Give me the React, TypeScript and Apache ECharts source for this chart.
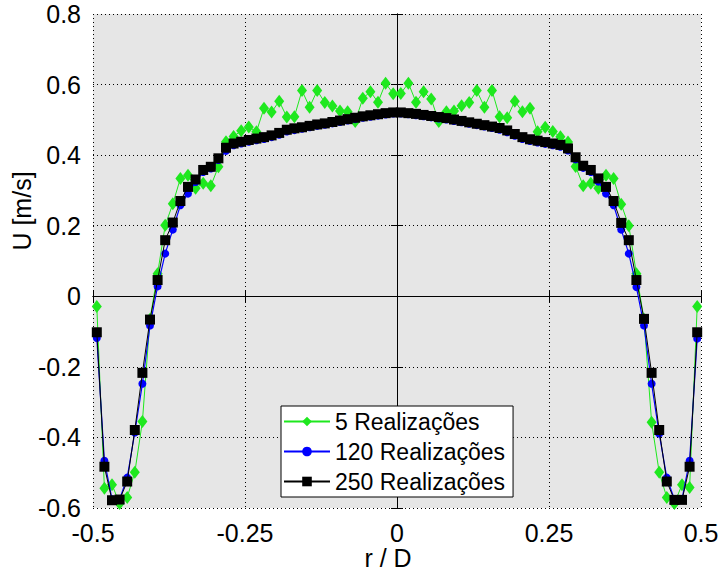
import React, { useEffect, useRef } from "react";
import * as echarts from "echarts";

const rD = [
  -0.49375, -0.48125, -0.46875, -0.45625, -0.44375, -0.43125, -0.41875, -0.40625, -0.39375, -0.38125,
  -0.36875, -0.35625, -0.34375, -0.33125, -0.31875, -0.30625, -0.29375, -0.28125, -0.26875, -0.25625,
  -0.24375, -0.23125, -0.21875, -0.20625, -0.19375, -0.18125, -0.16875, -0.15625, -0.14375, -0.13125,
  -0.11875, -0.10625, -0.09375, -0.08125, -0.06875, -0.05625, -0.04375, -0.03125, -0.01875, -0.00625,
  0.00625, 0.01875, 0.03125, 0.04375, 0.05625, 0.06875, 0.08125, 0.09375, 0.10625, 0.11875,
  0.13125, 0.14375, 0.15625, 0.16875, 0.18125, 0.19375, 0.20625, 0.21875, 0.23125, 0.24375,
  0.25625, 0.26875, 0.28125, 0.29375, 0.30625, 0.31875, 0.33125, 0.34375, 0.35625, 0.36875,
  0.38125, 0.39375, 0.40625, 0.41875, 0.43125, 0.44375, 0.45625, 0.46875, 0.48125, 0.49375,
];

const u5 = [
  -0.029, -0.544, -0.534, -0.587, -0.570, -0.499, -0.355, -0.065, 0.064, 0.201,
  0.262, 0.334, 0.343, 0.306, 0.320, 0.313, 0.367, 0.438, 0.453, 0.469,
  0.480, 0.466, 0.533, 0.522, 0.553, 0.508, 0.509, 0.583, 0.536, 0.583,
  0.549, 0.539, 0.525, 0.523, 0.495, 0.561, 0.580, 0.550, 0.604, 0.574,
  0.575, 0.604, 0.550, 0.580, 0.559, 0.495, 0.523, 0.525, 0.540, 0.549,
  0.583, 0.536, 0.583, 0.509, 0.506, 0.553, 0.523, 0.533, 0.466, 0.479,
  0.467, 0.452, 0.437, 0.368, 0.313, 0.320, 0.306, 0.343, 0.334, 0.261,
  0.200, 0.064, -0.065, -0.357, -0.499, -0.570, -0.587, -0.534, -0.542, -0.029,
];

const u120 = [
  -0.118, -0.466, -0.575, -0.575, -0.514, -0.386, -0.248, -0.083, 0.028, 0.121,
  0.189, 0.258, 0.291, 0.324, 0.352, 0.362, 0.386, 0.412, 0.428, 0.433,
  0.438, 0.442, 0.446, 0.451, 0.458, 0.467, 0.471, 0.475, 0.479, 0.483,
  0.486, 0.490, 0.494, 0.498, 0.502, 0.506, 0.509, 0.512, 0.515, 0.518,
  0.518, 0.516, 0.513, 0.510, 0.507, 0.504, 0.501, 0.497, 0.493, 0.489,
  0.485, 0.481, 0.477, 0.472, 0.465, 0.455, 0.446, 0.440, 0.436, 0.432,
  0.428, 0.424, 0.413, 0.388, 0.364, 0.352, 0.325, 0.291, 0.258, 0.189,
  0.121, 0.026, -0.083, -0.248, -0.389, -0.514, -0.575, -0.575, -0.466, -0.120,
];

const u250 = [
  -0.102, -0.483, -0.578, -0.576, -0.525, -0.379, -0.217, -0.066, 0.046, 0.159,
  0.209, 0.270, 0.310, 0.331, 0.358, 0.367, 0.391, 0.421, 0.433, 0.438,
  0.443, 0.447, 0.451, 0.456, 0.463, 0.472, 0.476, 0.479, 0.483, 0.487,
  0.490, 0.494, 0.498, 0.502, 0.506, 0.510, 0.513, 0.516, 0.519, 0.521,
  0.521, 0.519, 0.517, 0.514, 0.511, 0.508, 0.505, 0.501, 0.497, 0.493,
  0.489, 0.485, 0.481, 0.477, 0.470, 0.460, 0.451, 0.445, 0.441, 0.437,
  0.433, 0.429, 0.419, 0.394, 0.370, 0.358, 0.334, 0.310, 0.270, 0.208,
  0.159, 0.046, -0.064, -0.217, -0.379, -0.525, -0.577, -0.577, -0.483, -0.102,
];

const seriesNames = ["5 Realizações", "120 Realizações", "250 Realizações"];
const xTitle = "r / D";
const yTitle = "U [m/s]";

const FONT = "'Liberation Sans', Arial, sans-serif";

export default function App() {
  const ref = useRef<HTMLDivElement>(null);
  useEffect(() => {
    if (!ref.current) return;
    const chart = echarts.init(ref.current, undefined, { renderer: "svg" });
    const pair = (ys: number[]) => ys.map((y, i) => [rD[i], y]);
    const yFmt = (v: number) => (Math.abs(v) < 1e-9 ? "0" : v.toFixed(1));
    const axisLine = { show: true, lineStyle: { color: "#000", width: 1 } };
    const tick = { show: true, inside: false, length: 6, lineStyle: { color: "#000" } };
    chart.setOption({
      animation: false,
      backgroundColor: "#fff",
      grid: {
        left: 93,
        right: 22,
        top: 14,
        bottom: 63,
        show: true,
        backgroundColor: "#e6e6e6",
        borderWidth: 0,
      },
      graphic: [
        {
          type: "text",
          x: 22,
          y: 211,
          rotation: Math.PI / 2,
          style: {
            text: yTitle,
            fontFamily: FONT,
            fontSize: 25,
            fill: "#000",
            align: "center",
            verticalAlign: "middle",
          },
        },
        {
          type: "text",
          x: 388,
          y: 558,
          style: {
            text: xTitle,
            fontFamily: FONT,
            fontSize: 25,
            fill: "#000",
            align: "center",
            verticalAlign: "middle",
          },
        },
      ],
      legend: {
        orient: "vertical",
        left: 281,
        top: 406,
        itemWidth: 46,
        itemHeight: 12,
        itemGap: 7,
        padding: [4, 8, 4, 2],
        backgroundColor: "#fff",
        borderColor: "#000",
        borderWidth: 1,
        borderRadius: 0,
        textStyle: { fontFamily: FONT, fontSize: 23, color: "#000" },
        data: seriesNames,
      },
      xAxis: [
        {
          type: "value",
          min: -0.5,
          max: 0.5,
          interval: 0.25,
          position: "bottom",
          axisLine,
          axisTick: tick,
          axisLabel: { fontFamily: FONT, fontSize: 25, color: "#000", margin: 12 },
          splitLine: { show: true, lineStyle: { color: "#000", type: [1, 3], width: 1 } },
        },
        {
          type: "value",
          min: -0.5,
          max: 0.5,
          interval: 0.25,
          position: "top",
          axisLine,
          axisTick: tick,
          axisLabel: { show: false },
          splitLine: { show: false },
        },
      ],
      yAxis: [
        {
          type: "value",
          min: -0.6,
          max: 0.8,
          interval: 0.2,
          position: "left",
          axisLine,
          axisTick: tick,
          axisLabel: { fontFamily: FONT, fontSize: 25, color: "#000", margin: 12, formatter: yFmt },
          splitLine: { show: true, lineStyle: { color: "#000", type: [1, 3], width: 1 } },
        },
        {
          type: "value",
          min: -0.6,
          max: 0.8,
          interval: 0.2,
          position: "right",
          axisLine,
          axisTick: tick,
          axisLabel: { show: false },
          splitLine: { show: false },
        },
      ],
      series: [
        {
          name: seriesNames[0],
          type: "line",
          data: pair(u5),
          symbol: "diamond",
          symbolSize: [10, 13],
          lineStyle: { color: "#1ee81e", width: 1 },
          itemStyle: { color: "#1ee81e" },
          z: 2,
        },
        {
          name: seriesNames[1],
          type: "line",
          data: pair(u120),
          symbol: "circle",
          symbolSize: 8,
          lineStyle: { color: "#0000ff", width: 1.2 },
          itemStyle: { color: "#0000ff" },
          z: 3,
        },
        {
          name: seriesNames[2],
          type: "line",
          data: pair(u250),
          symbol: "rect",
          symbolSize: 10,
          lineStyle: { color: "#000", width: 1 },
          itemStyle: { color: "#000" },
          z: 4,
        },
      ],
    });
    return () => chart.dispose();
  }, []);
  return (
    <div
      ref={ref}
      style={{ position: "fixed", left: 0, top: 0, width: 723, height: 571 }}
    />
  );
}
